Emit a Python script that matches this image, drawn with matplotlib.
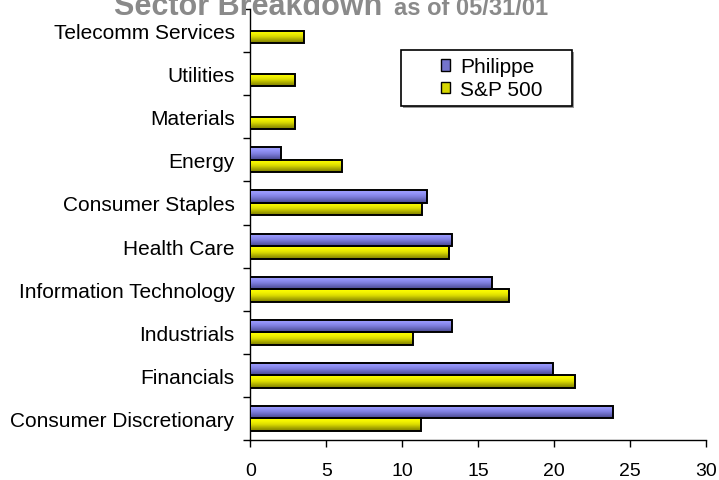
import matplotlib
matplotlib.use("Agg")
import matplotlib.pyplot as plt
import numpy as np
from matplotlib.colors import LinearSegmentedColormap
from matplotlib.patches import Patch, Rectangle

categories = ["Consumer Discretionary", "Financials", "Industrials",
              "Information Technology", "Health Care", "Consumer Staples",
              "Energy", "Materials", "Utilities", "Telecomm Services"]
philippe = [23.9, 19.9, 13.3, 15.9, 13.3, 11.6, 2.0, 0, 0, 0]
sp500 = [11.2, 21.4, 10.7, 17.0, 13.1, 11.3, 6.0, 2.9, 2.9, 3.5]
series_names = ["Philippe", "S&P 500"]
xticks = [0, 5, 10, 15, 20, 25, 30]

plt.rcParams['font.family'] = ['Liberation Sans', 'DejaVu Sans']

W, H = 719, 481
fig = plt.figure(figsize=(W / 100, H / 100), dpi=100)
ax = fig.add_axes([250.5 / W, 1 - 441 / H, (706 - 250.5) / W, (441 - 10) / H])

y = np.arange(len(categories))
h = 0.29
blue_cmap = LinearSegmentedColormap.from_list("b", ["#48488c", "#6464b8", "#8080e0", "#9494f8", "#a0a0ff"])
yel_cmap = LinearSegmentedColormap.from_list("y", ["#7c7c00", "#a8a800", "#dada00", "#f4f400", "#ffff00"])

b1 = ax.barh(y + h / 2, philippe, height=h, color="#8080e0", edgecolor="none",
             label=series_names[0], zorder=3)
b2 = ax.barh(y - h / 2, sp500, height=h, color="#e0e000", edgecolor="none",
             label=series_names[1], zorder=3)

grad = np.linspace(0, 1, 64).reshape(-1, 1)
for bars, cmap in ((b1, blue_cmap), (b2, yel_cmap)):
    for p in bars:
        w = p.get_width()
        if w <= 0:
            p.set_visible(False)
            continue
        x0, y0, hh = p.get_x(), p.get_y(), p.get_height()
        ax.imshow(grad, cmap=cmap, aspect="auto", origin="lower",
                  extent=(x0, x0 + w, y0, y0 + hh), zorder=3.5,
                  interpolation="bilinear")
        ax.add_patch(Rectangle((x0, y0), w, hh, fill=False,
                               edgecolor="black", linewidth=1.4, zorder=4))

ax.set_xlim(0, 30)
ax.set_ylim(-0.5, len(categories) - 0.5)
ax.set_xticks(xticks)
ax.set_xticklabels([str(t) for t in xticks], fontsize=14)
ax.set_yticks(y)
ax.set_yticklabels(categories, fontsize=15)
ax.set_yticks(np.arange(len(categories) + 1) - 0.5, minor=True)
ax.tick_params(axis="y", which="major", length=0, pad=11.5)
ax.tick_params(axis="y", which="minor", length=5, width=1, direction="out")
ax.tick_params(axis="x", which="major", length=5, width=1, direction="out", pad=10.5)
for s in ("top", "right"):
    ax.spines[s].set_visible(False)
ax.spines["left"].set_linewidth(1)
ax.spines["bottom"].set_linewidth(1)

# legend box
fig.patches.append(Rectangle((403 / W, 1 - 109 / H), 171 / W, 56 / H,
                             transform=fig.transFigure, facecolor="#999999",
                             edgecolor="none", zorder=1))
fig.patches.append(Rectangle((401 / W, 1 - 107 / H), 171 / W, 56 / H,
                             transform=fig.transFigure, facecolor="white",
                             edgecolor="black", linewidth=1.2, zorder=2))
handles = [Patch(facecolor="#7474cc", edgecolor="black"),
           Patch(facecolor="#d6d600", edgecolor="black")]
leg = fig.legend(handles, series_names, loc="center left",
                 bbox_to_anchor=(441 / W, 1 - 79 / H), fontsize=15,
                 frameon=False, handlelength=0.45, handleheight=0.45,
                 handletextpad=0.45, borderpad=0, labelspacing=0.15,
                 borderaxespad=0)
leg.set_zorder(5)

fig.text(114 / W, 1 - 15 / H, "Sector Breakdown", fontsize=22, fontweight="bold",
         color="#8a8a8a", ha="left", va="baseline")
fig.text(548 / W, 1 - 15 / H, "as of 05/31/01", fontsize=17, fontweight="bold",
         color="#8a8a8a", ha="right", va="baseline")

fig.savefig("out.png", dpi=100)
